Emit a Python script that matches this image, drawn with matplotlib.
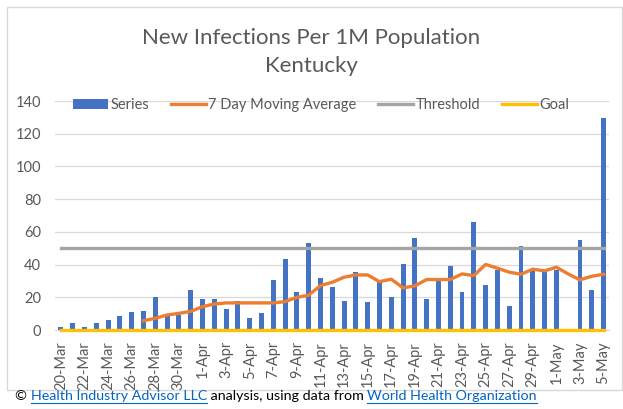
import numpy as np
import pandas as pd
import matplotlib
matplotlib.use("Agg")
import matplotlib.pyplot as plt
from matplotlib.lines import Line2D
from matplotlib.patches import Rectangle

plt.rcParams['font.family'] = ['Lato', 'DejaVu Sans']

# days from 20-Mar to 5-May
dates = pd.date_range('2020-03-20', '2020-05-05')
date_labels = [f"{d.day}-{d.strftime('%b')}" for d in dates]

# new infections per 1M population
series = [2.0, 4.3, 2.0, 4.3, 6.3, 8.6, 10.8, 11.9, 20.2, 9.0, 9.0, 24.5,
          19.2, 19.2, 12.8, 18.0, 7.4, 10.6, 30.9, 43.5, 23.3, 53.1, 31.9,
          26.6, 18.0, 35.2, 17.0, 29.6, 20.2, 40.5, 56.4, 19.0, 30.2, 39.2,
          23.3, 65.8, 27.6, 36.8, 14.7, 51.1, 36.4, 35.4, 36.8, 0.0, 55.2,
          24.5, 129.4]

# 7 day moving average (starts on 27-Mar)
moving_avg = [np.nan] * 7 + [5.7, 7.2, 9.2, 10.2, 11.4, 14.3, 15.9, 16.6,
                             16.6, 16.6, 16.6, 16.6, 17.4, 20.0, 21.3, 27.2,
                             29.2, 32.3, 33.7, 33.7, 29.6, 31.1, 25.8, 27.0,
                             30.9, 30.9, 30.9, 34.3, 33.3, 40.1, 37.8, 35.4,
                             34.1, 37.2, 36.2, 38.4, 34.3, 30.7, 32.9, 34.1]

threshold_value = 50
goal_value = 0

x = np.arange(len(series))
threshold = np.full(len(series), threshold_value)
goal = np.full(len(series), goal_value)

grey_txt = '#595959'
fs = 10.5

fig = plt.figure(figsize=(6.23, 4.09), dpi=100)
ax = fig.add_axes([0.0883, 0.193, 0.890, 0.560])

b = ax.bar(x, series, width=0.42, color='#4472C4', label='Series', zorder=2)
l1, = ax.plot(x, moving_avg, color='#ED7D31', lw=2.4, label='7 Day Moving Average', zorder=3)
l2, = ax.plot(x, threshold, color='#A5A5A5', lw=2.4, label='Threshold', zorder=3)
l3, = ax.plot(x, goal, color='#FFC000', lw=2.4, label='Goal', zorder=4, clip_on=False)

ax.set_xlim(-0.5, len(series) - 0.5)
ax.set_ylim(0, 140)
ax.set_yticks(range(0, 141, 20))
ax.set_xticks(x[::2])
ax.set_xticklabels(date_labels[::2], rotation=90, fontsize=fs, color=grey_txt)
ax.tick_params(axis='y', labelsize=fs, labelcolor=grey_txt, length=0, pad=10)
ax.tick_params(axis='x', length=0, pad=8)
ax.grid(axis='y', color='#D9D9D9', lw=0.9, zorder=0)
for s in ['top', 'right', 'left']:
    ax.spines[s].set_visible(False)
ax.spines['bottom'].set_color('#D9D9D9')

leg = ax.legend([b, l1, l2, l3], ['Series', '7 Day Moving Average', 'Threshold', 'Goal'],
                loc='center', bbox_to_anchor=(0.48, 0.983), ncol=4, frameon=False,
                fontsize=fs, handlelength=2.4, handletextpad=0.15,
                columnspacing=1.5, labelcolor=grey_txt)

fig.text(0.5, 0.907, 'New Infections Per 1M Population', ha='center',
         va='center', fontsize=16, color=grey_txt)
fig.text(0.5, 0.838, 'Kentucky', ha='center', va='center', fontsize=16,
         color=grey_txt)

# chart border
fig.patches.append(Rectangle((0.0105, 0.046), 0.988, 0.937, transform=fig.transFigure,
                             fill=False, edgecolor='#D9D9D9', lw=1))

# footer with underlined links
renderer = fig.canvas.get_renderer()
pieces = [('© ', 'black', False),
          ('Health Industry Advisor LLC', '#0563C1', True),
          (' analysis, using data from ', 'black', False),
          ('World Health Organization', '#0563C1', True)]
xpos = 15 / 623
ypos = 0.022
W, H = fig.get_size_inches() * fig.dpi
for txt, col, underline in pieces:
    t = fig.text(xpos, ypos, txt, color=col, fontsize=10.3, va='baseline')
    bb = t.get_window_extent(renderer)
    if underline:
        fig.add_artist(Line2D([bb.x0 / W, bb.x1 / W], [ypos - 2.5 / H, ypos - 2.5 / H],
                              color=col, lw=0.8, transform=fig.transFigure))
    xpos = bb.x1 / W

fig.savefig('out.png', dpi=100)
